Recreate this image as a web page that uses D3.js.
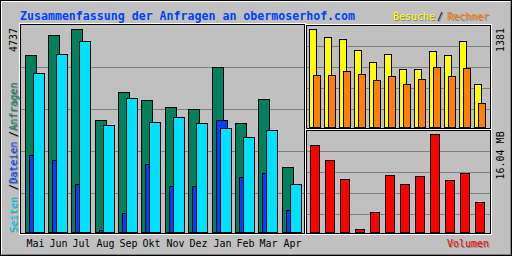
<!DOCTYPE html>
<html><head><meta charset="utf-8">
<script src="https://cdn.jsdelivr.net/npm/d3@7/dist/d3.min.js"></script>
<style>html,body{margin:0;padding:0;background:#c0c0c0}svg{display:block}</style>
</head><body>
<svg id="c" width="512" height="256"></svg>
<script>
// ---- data ----
const months   = ["Mai","Jun","Jul","Aug","Sep","Okt","Nov","Dez","Jan","Feb","Mar","Apr"];
const anfragen = [4132,4597,4737,2620,3271,3086,2923,2876,3853,2551,3109,1528];
const dateien  = [1790,1674,1116,40,442,1581,1063,1063,2604,1295,1388,505];
const seiten   = [3713,4155,4457,2504,3132,2574,2690,2551,2418,2225,2388,1109];
const besuche  = [1381,1268,1240,1086,917,1029,818,818,1071,1015,1212,607];
const rechner  = [734,734,790,748,664,720,607,678,846,720,832,340];
const volumenMB= [14.24,11.84,8.74,0.52,3.30,9.34,7.87,9.18,16.04,8.53,9.67,4.93];
const maxMain = "4737", maxVisits = "1381", maxVol = "16.04 MB";
const title = "Zusammenfassung der Anfragen an obermoserhof.com";

const C = {grey:"#c0c0c0",dk:"#808080",black:"#000",white:"#fff",green:"#00805c",
  orange:"#ff8000",blue:"#0040ff",red:"#ff0000",cyan:"#00e0ff",yellow:"#ffff00"};
const SMALL = "'DejaVu Sans Mono', monospace";

const svg = d3.select("#c").attr("shape-rendering","crispEdges");
svg.append("rect").attr("width",512).attr("height",256).attr("fill",C.grey);

function hline(x1,x2,y,col){svg.append("line").attr("x1",x1).attr("x2",x2).attr("y1",y+0.5).attr("y2",y+0.5).attr("stroke",col);}
function vline(x,y1,y2,col){svg.append("line").attr("x1",x+0.5).attr("x2",x+0.5).attr("y1",y1).attr("y2",y2).attr("stroke",col);}

// outer border
svg.append("rect").attr("x",0.5).attr("y",0.5).attr("width",511).attr("height",255).attr("fill","none").attr("stroke",C.black);
hline(1,510,1,C.white); vline(1,1,254,C.white);
hline(2,511,254,C.dk); vline(510,2,255,C.dk);

// panel geometry
const main = {x0:20,x1:305,y0:24,y1:234};
const tr = {x0:305,x1:491,y0:24,y1:129};
const br = {x0:305,x1:491,y0:129,y1:234};

// grid lines
[1,2,3,4].forEach(k=>{
  hline(main.x0+1, main.x1, Math.round(25+k*42), C.dk);
  hline(tr.x0+1, tr.x1, Math.round(25+k*21), C.dk);
  hline(br.x0+1, br.x1, Math.round(130+k*21), C.dk);
});

// frames
function frame(p){
  svg.append("rect").attr("x",p.x0-0.5).attr("y",p.y0-0.5).attr("width",p.x1-p.x0+1).attr("height",p.y1-p.y0+1).attr("fill","none").attr("stroke",C.white);
  svg.append("rect").attr("x",p.x0+0.5).attr("y",p.y0+0.5).attr("width",p.x1-p.x0-1).attr("height",p.y1-p.y0-1).attr("fill","none").attr("stroke",C.black);
}
frame(main); frame({x0:306,x1:491,y0:25,y1:129}); frame({x0:306,x1:491,y0:130,y1:234});

// scales
const x = d3.scaleBand().domain(months).range([25, 25+12*23.4]);
const y = d3.scaleLinear().domain([0,+maxMain]).range([232.5,29.5]);
const x2 = d3.scaleBand().domain(months).range([309, 309+12*15]);
const y2 = d3.scaleLinear().domain([0,+maxVisits]).range([127.5,29.5]);
const x3 = d3.scaleBand().domain(months).range([310, 310+12*15]);
const y3 = d3.scaleLinear().domain([0,16.04]).range([232.5,134.5]);

function bars(data, xs, ys, off, w, col, base){
  svg.append("g").selectAll("rect").data(data).join("rect")
    .attr("x",(d,i)=>Math.floor(xs(months[i]))+off+0.5)
    .attr("y",d=>Math.round(ys(d)-0.5)+0.5)
    .attr("width",w)
    .attr("height",d=>Math.max(0,base-(Math.round(ys(d)-0.5)+0.5)))
    .attr("fill",col).attr("stroke",C.black);
}
bars(anfragen,x,y,0,11,C.green,232.5);
bars(dateien,x,y,4,11,C.blue,232.5);
bars(seiten,x,y,8,11,C.cyan,232.5);
bars(besuche,x2,y2,0,7,C.yellow,127.5);
bars(rechner,x2,y2,4,7,C.orange,127.5);
bars(volumenMB,x3,y3,0,9,C.red,232.5);

// text helpers
function text(t,xp,yp,col,opt={}){
  const size = opt.size||10, weight=opt.bold?"bold":"normal";
  const mk=(dx,dy,c)=>{
    const e=svg.append("text").text(t).attr("fill",c).attr("font-family",SMALL)
      .attr("font-size",size).attr("font-weight",weight);
    if(opt.up) e.attr("transform",`translate(${xp+dx},${yp+dy}) rotate(-90)`);
    else e.attr("x",xp+dx).attr("y",yp+dy);
    return e;
  };
  if(opt.shadow) mk(1,1,C.dk);
  mk(0,0,col);
}

// title
text(title,20,19.5,C.blue,{size:11.6,bold:true});
// legends top-right
text("Besuche",393,19.5,C.yellow,{shadow:true});
text("/",437,19.5,C.black,{shadow:true});
text("Rechner",447,19.5,C.orange,{shadow:true});
// bottom-right legend
text("Volumen",447,246.5,C.red,{shadow:true});
// month labels
months.forEach(m=>text(m, Math.floor(x(m))+1.5, 247, C.black));
// y-axis labels
text(maxMain,17,52,C.black,{up:true});
text(maxVisits,503.5,52,C.black,{up:true});
text(maxVol,504,179.5,C.black,{up:true});
// left legend
text("Seiten",17,232,C.cyan,{up:true,shadow:true});
text("/",17,190,C.black,{up:true,shadow:true});
text("Dateien",17,183.5,C.blue,{up:true,shadow:true});
text("/",17,137,C.black,{up:true,shadow:true});
text("Anfragen",17,130.5,C.green,{up:true,shadow:true});
</script>
</body></html>
